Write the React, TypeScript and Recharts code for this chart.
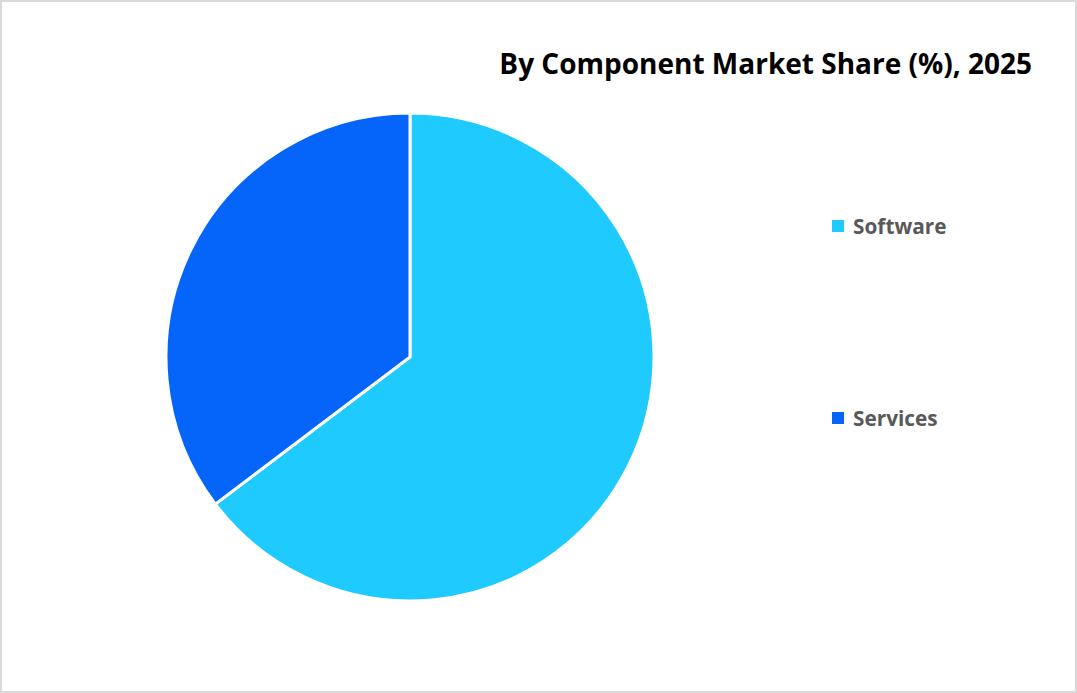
import { PieChart, Pie, Cell, Legend } from 'recharts';

// component share values (%)
const components = ['Software', 'Services'];
const shares = [64.7, 35.3];
const colors = ['#1ECAFE', '#0565FB'];

const chartTitle = 'By Component Market Share (%), 2025';

const pieData = components.map((name, i) => ({ name, value: shares[i] }));

const LegendContent = () => (
  <div>
    {components.map((name, i) => (
      <div
        key={name}
        style={{
          display: 'flex',
          alignItems: 'center',
          height: 30,
          marginBottom: i === 0 ? 162 : 0,
        }}
      >
        <span
          style={{
            display: 'inline-block',
            width: 12,
            height: 12,
            background: colors[i],
            marginRight: 9,
          }}
        />
        <span
          style={{
            fontFamily: '"Open Sans", Lato, sans-serif',
            fontWeight: 700,
            fontSize: 20.8,
            color: '#595959',
          }}
        >
          {name}
        </span>
      </div>
    ))}
  </div>
);

export default function App() {
  return (
    <div
      style={{
        position: 'absolute',
        left: 0,
        top: 0,
        width: 1077,
        height: 693,
        background: '#fff',
      }}
    >
      <PieChart width={1077} height={693} margin={{ top: 0, right: 0, bottom: 0, left: 0 }}>
        <Pie
          data={pieData}
          dataKey="value"
          nameKey="name"
          cx={410}
          cy={357}
          outerRadius={244}
          startAngle={90}
          endAngle={-270}
          stroke="#fff"
          strokeWidth={3}
          isAnimationActive={false}
        >
          {pieData.map((d, i) => (
            <Cell key={d.name} fill={colors[i]} />
          ))}
        </Pie>
        <Legend
          layout="vertical"
          align="right"
          verticalAlign="top"
          content={<LegendContent />}
          wrapperStyle={{ top: 211, left: 832, width: 220 }}
        />
      </PieChart>
      <div
        style={{
          position: 'absolute',
          right: 45,
          top: 45,
          fontFamily: '"Open Sans", Lato, sans-serif',
          fontWeight: 700,
          fontSize: 28,
          color: '#000',
          whiteSpace: 'nowrap',
          lineHeight: '36px',
        }}
      >
        {chartTitle}
      </div>
      <div
        style={{
          position: 'absolute',
          inset: 0,
          border: '2px solid #d9d9d9',
          pointerEvents: 'none',
        }}
      />
    </div>
  );
}
